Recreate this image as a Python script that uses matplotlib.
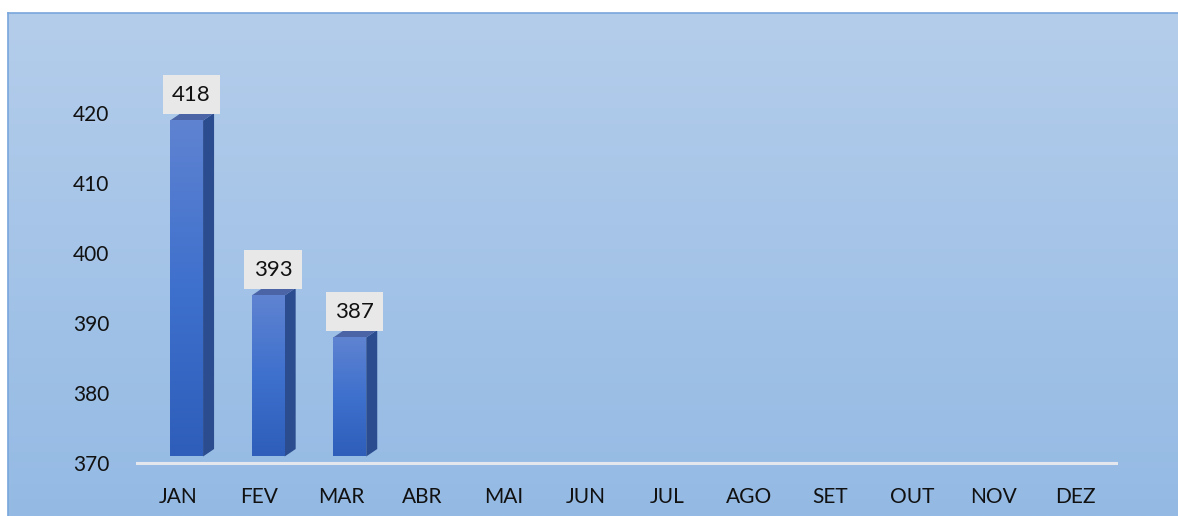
import numpy as np
import matplotlib.pyplot as plt
from matplotlib.patches import Polygon
from matplotlib.transforms import ScaledTranslation

months = ['JAN', 'FEV', 'MAR', 'ABR', 'MAI', 'JUN', 'JUL', 'AGO', 'SET', 'OUT', 'NOV', 'DEZ']
values = [418, 393, 387]
yticks = [370, 380, 390, 400, 410, 420]

plt.rcParams['font.family'] = ['Lato', 'DejaVu Sans']

W, H = 1178, 516
fig = plt.figure(figsize=(W / 100, H / 100), dpi=100)

# panel background with soft vertical gradient, border on top/left only
bg = fig.add_axes([8 / W, 0, 1 - 8 / W, (H - 13) / H])
top = np.array([180, 205, 235]) / 255
bot = np.array([148, 186, 228]) / 255
t = np.linspace(0, 1, 256)[:, None, None]
grad = top * (1 - t) + bot * t
bg.imshow(grad, aspect='auto', extent=[0, 1, 0, 1], interpolation='bilinear')
bg.set_xticks([])
bg.set_yticks([])
for name, s in bg.spines.items():
    s.set_color('#7aa6dc')
    s.set_linewidth(1.2)
    s.set_visible(name in ('top', 'left'))

ax = fig.add_axes([137 / W, (H - 463) / H, (1116 - 137) / W, 420 / H])
ax.patch.set_alpha(0)
ax.set_xlim(-0.5, 11.5)
ax.set_ylim(370, 430)

# bars sit slightly right/up of the floor line (3-D look)
shift = ax.transData + ScaledTranslation(0.088, 0.065, fig.dpi_scale_trans)
depth = ScaledTranslation(0.11, 0.075, fig.dpi_scale_trans)
back = shift + depth

bw = 0.404
front_grad = np.array([[95, 131, 209], [62, 112, 205], [46, 94, 186]]) / 255
fg = np.linspace(0, 1, 128)
fg_img = np.empty((128, 1, 3))
for c in range(3):
    fg_img[:, 0, c] = np.interp(fg, [0, 0.5, 1], front_grad[:, c])

for i, v in enumerate(values):
    x0, x1 = i - bw / 2, i + bw / 2
    # side face
    pts_f = shift.transform([(x1, 370), (x1, v)])
    pts_b = back.transform([(x1, v), (x1, 370)])
    side = Polygon(np.vstack([pts_f, pts_b]), closed=True, transform=None,
                   facecolor='#2b4c8e', edgecolor='none', zorder=2)
    ax.add_artist(side)
    # top face
    tf = shift.transform([(x0, v), (x1, v)])
    tb = back.transform([(x1, v), (x0, v)])
    topf = Polygon(np.vstack([tf, tb]), closed=True, transform=None,
                   facecolor='#4a64a6', edgecolor='none', zorder=2)
    ax.add_artist(topf)
    # front face with gradient
    ax.imshow(fg_img, extent=[x0, x1, 370, v], aspect='auto',
              interpolation='bilinear', transform=shift, zorder=3)
    ax.annotate(str(v), xy=(i + 0.06, v), xycoords=shift,
                xytext=(0, 18.7), textcoords='offset points',
                ha='center', va='center', fontsize=16, color='#111111',
                bbox=dict(boxstyle='square,pad=0.42', facecolor='#e8e8e8',
                          edgecolor='none'), zorder=5)

ax.set_xlim(-0.5, 11.5)
ax.set_ylim(370, 430)

ax.axhline(370, color='#e4e8ee', lw=2.2, zorder=4, clip_on=False)
ax.set_xticks(range(len(months)))
ax.set_xticklabels(months)
ax.set_yticks(yticks)
ax.tick_params(axis='both', length=0, labelsize=15, colors='#111111')
ax.tick_params(axis='y', pad=20)
ax.tick_params(axis='x', pad=17)
for s in ax.spines.values():
    s.set_visible(False)

fig.savefig('out.png', dpi=100)
